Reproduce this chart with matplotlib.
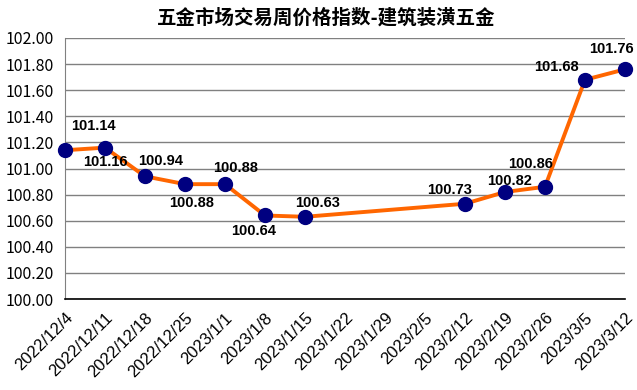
import matplotlib
matplotlib.use('Agg')
import matplotlib.pyplot as plt
import pandas as pd

plt.rcParams['font.family'] = ['Noto Sans CJK SC', 'DejaVu Sans']

title = '五金市场交易周价格指数-建筑装潢五金'

# weekly axis ticks
week_labels = ['2022/12/4', '2022/12/11', '2022/12/18', '2022/12/25', '2023/1/1',
               '2023/1/8', '2023/1/15', '2023/1/22', '2023/1/29', '2023/2/5',
               '2023/2/12', '2023/2/19', '2023/2/26', '2023/3/5', '2023/3/12']

# observed index values (no data for the Spring Festival weeks)
obs_dates = ['2022/12/4', '2022/12/11', '2022/12/18', '2022/12/25', '2023/1/1',
             '2023/1/8', '2023/1/15', '2023/2/12', '2023/2/19', '2023/2/26',
             '2023/3/5', '2023/3/12']
obs_values = [101.14, 101.16, 100.94, 100.88, 100.88, 100.64, 100.63,
              100.73, 100.82, 100.86, 101.68, 101.76]

# label offsets in pixels (dx, dy) from each point
label_off = [(28, 24), (0, -14), (16, 15), (7, -19), (11, 16), (-11, -16),
             (13, 14), (-15, 14), (5, 11), (-14, 23), (-29, 13), (-14, 20)]

ticks = pd.to_datetime(week_labels, format='%Y/%m/%d')
xd = pd.to_datetime(obs_dates, format='%Y/%m/%d')

fig = plt.figure(figsize=(6.37, 3.90), dpi=100)
ax = fig.add_axes([65 / 637, 91 / 390, 560 / 637, 261 / 390])

ax.plot(xd, obs_values, color='#FF6600', lw=2.8, zorder=3,
        marker='o', markersize=10, markerfacecolor='#000080',
        markeredgecolor='#000080', clip_on=False)

for x, v, (dx, dy) in zip(xd, obs_values, label_off):
    ax.annotate(f'{v:.2f}', xy=(x, v), xytext=(dx * 0.72, dy * 0.72),
                textcoords='offset points', ha='center', va='center',
                fontsize=10.5, fontweight='bold', family='Liberation Sans',
                color='black', zorder=4)

ax.set_xlim(ticks[0], ticks[-1])
ax.set_ylim(100.0, 102.0)
ax.set_yticks([100 + 0.2 * i for i in range(11)])
ax.set_yticklabels([f'{100 + 0.2 * i:.2f}' for i in range(11)], fontsize=11.5)
ax.set_xticks(ticks)
ax.set_xticklabels(week_labels, rotation=45, ha='right', va='top',
                   rotation_mode='anchor', fontsize=12, family='Liberation Sans')
ax.tick_params(axis='both', length=0)
ax.tick_params(axis='x', pad=8)
ax.tick_params(axis='y', pad=8)

ax.grid(axis='y', color='#808080', lw=1)
ax.set_axisbelow(True)
ax.spines['top'].set_visible(False)
ax.spines['right'].set_visible(False)
ax.spines['left'].set_color('#808080')
ax.spines['bottom'].set_color('black')
ax.spines['bottom'].set_linewidth(1.2)

fig.text(326 / 637, 1 - 18 / 390, title, ha='center', va='center', fontsize=14,
         fontweight='bold')

fig.savefig('out.png', dpi=100)
